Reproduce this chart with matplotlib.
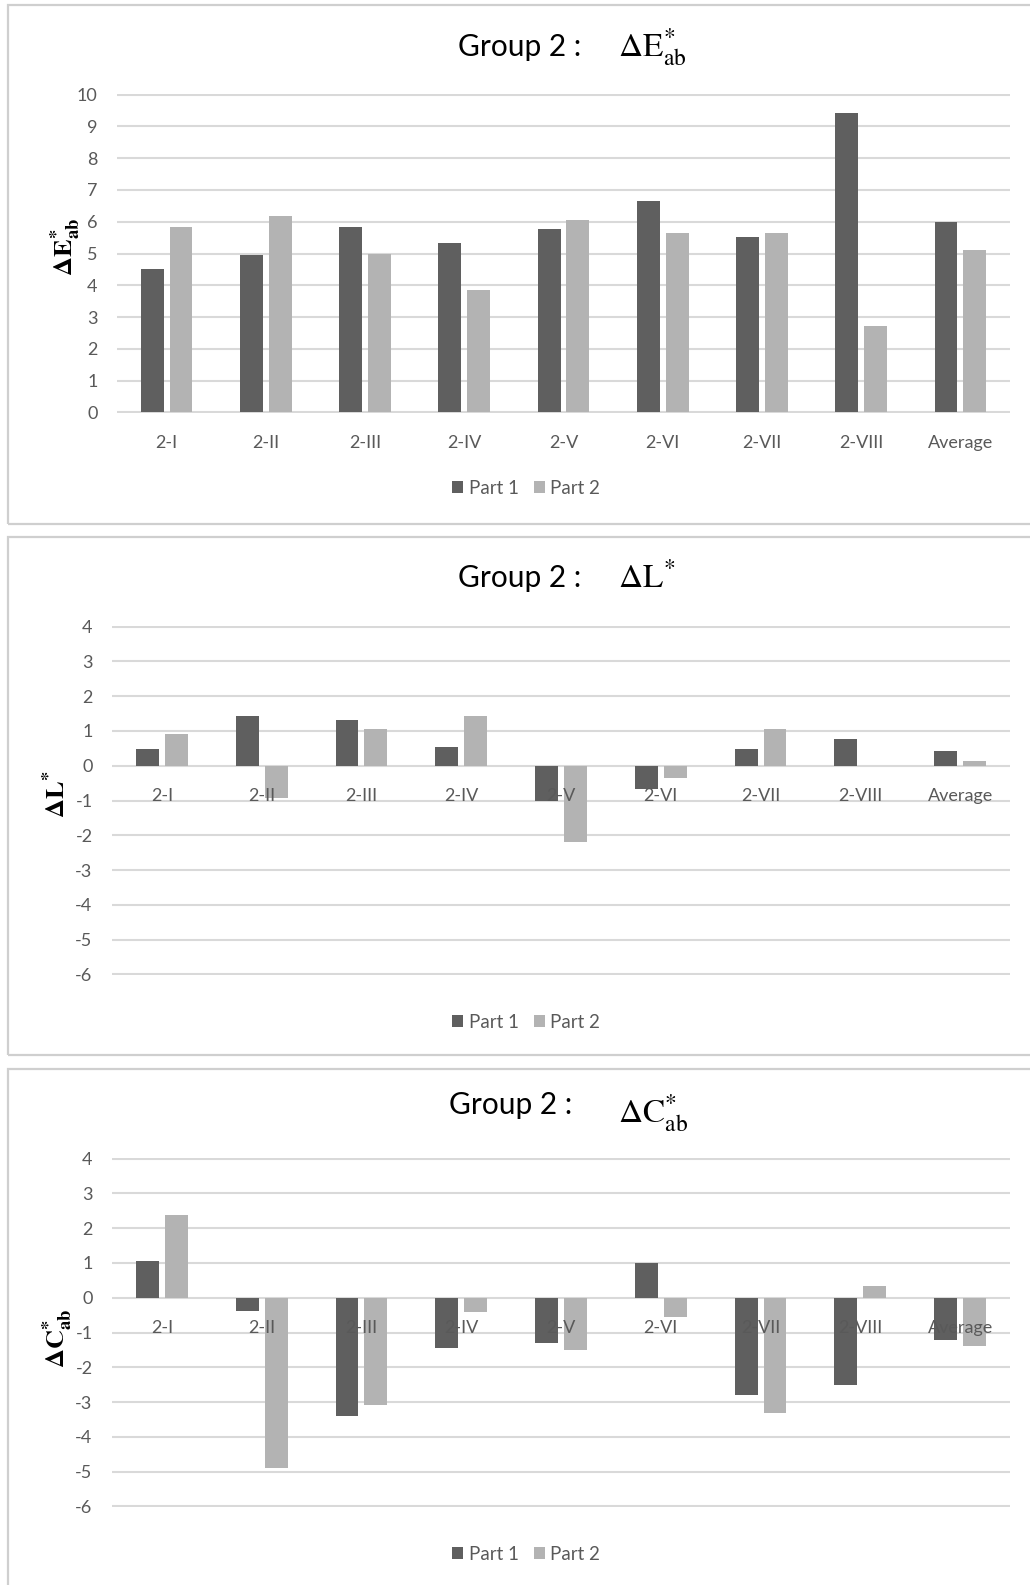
import matplotlib
matplotlib.use("Agg")
import matplotlib.pyplot as plt
import numpy as np
from matplotlib.patches import Rectangle

plt.rcParams['font.family'] = ['Lato', 'DejaVu Sans']
plt.rcParams['mathtext.fontset'] = 'stix'
plt.rcParams['axes.unicode_minus'] = False

# categorias y valores
cats = ['2-I', '2-II', '2-III', '2-IV', '2-V', '2-VI', '2-VII', '2-VIII', 'Average']
series_names = ['Part 1', 'Part 2']

de_p1 = [4.50, 4.95, 5.84, 5.33, 5.77, 6.66, 5.51, 9.42, 5.98]
de_p2 = [5.83, 6.17, 4.98, 3.86, 6.05, 5.63, 5.66, 2.73, 5.12]

dl_p1 = [0.48, 1.42, 1.32, 0.55, -1.00, -0.66, 0.48, 0.76, 0.43]
dl_p2 = [0.92, -0.93, 1.05, 1.42, -2.18, -0.35, 1.05, 0.0, 0.14]

dc_p1 = [1.06, -0.37, -3.41, -1.45, -1.30, 1.00, -2.79, -2.52, -1.22]
dc_p2 = [2.38, -4.90, -3.08, -0.40, -1.49, -0.54, -3.32, 0.33, -1.39]

W, H = 1030, 1585
DARK = '#5f5f5f'
LIGHT = '#b3b3b3'
GRID = '#d9d9d9'
TXT = '#595959'

fig = plt.figure(figsize=(W / 100, H / 100), dpi=100)


def fx(px):
    return px / W


def fy(py):
    return 1 - py / H


def panel(top, bottom):
    # marco gris de cada grafico
    r = Rectangle((fx(8), fy(bottom)), fx(1040) - fx(8), fy(top) - fy(bottom),
                  transform=fig.transFigure, fill=False, edgecolor='#cfcfcf', lw=1.6)
    fig.patches.append(r)


def make_chart(box, p1, p2, ylim, yticks, ylabel, ylab_xy, title_math, title_pos, math_dy, legend_y):
    l, t, r, b = box
    ax = fig.add_axes([fx(l), fy(b), fx(r) - fx(l), fy(t) - fy(b)])
    x = np.arange(len(cats))
    w = 0.23
    ax.bar(x - 0.145, p1, w, color=DARK, label=series_names[0], zorder=2)
    ax.bar(x + 0.145, p2, w, color=LIGHT, label=series_names[1], zorder=2)
    ax.set_xlim(-0.5, len(cats) - 0.5)
    ax.set_ylim(ylim[0] - 0.02, ylim[1] + 0.02)
    ax.set_yticks(yticks)
    ax.set_axisbelow(True)
    ax.xaxis.set_zorder(3)  # etiquetas encima de las barras, como en Excel
    ax.grid(axis='y', color=GRID, lw=1.5)
    for s in ['top', 'right', 'left']:
        ax.spines[s].set_visible(False)
    ax.spines['bottom'].set_position(('data', 0))
    ax.spines['bottom'].set_visible(False)
    ax.set_xticks(x)
    ax.set_xticklabels(cats)
    ax.tick_params(axis='x', length=0, pad=16, labelsize=13, labelcolor=TXT)
    ax.tick_params(axis='y', length=0, pad=14, labelsize=13, labelcolor=TXT)
    ax.set_ylabel(ylabel, fontsize=19, color='black', va='center')
    ax.yaxis.set_label_coords((ylab_xy[0] - l) / (r - l), (b - ylab_xy[1]) / (b - t))
    ax.legend(loc='center', bbox_to_anchor=(fx(526), fy(legend_y)),
              bbox_transform=fig.transFigure, ncol=2, frameon=False,
              fontsize=13.5, labelcolor=TXT, handlelength=0.6, handleheight=0.6,
              handletextpad=0.3, columnspacing=0.8)
    fig.text(fx(title_pos[0]), fy(title_pos[1]), 'Group 2 :', fontsize=21.5,
             ha='left', va='baseline', color='black')
    fig.text(fx(618), fy(title_pos[1] + math_dy), title_math, fontsize=24,
             ha='left', va='baseline', color='black')
    return ax


panel(5, 524)
panel(537, 1055)
panel(1069, 1600)

make_chart((117, 94, 1010, 413), de_p1, de_p2, (0, 10), range(0, 11),
           r'$\mathbf{\Delta E^{*}_{ab}}$', (66, 247), r'$\mathrm{\Delta E^{*}_{ab}}$',
           (458, 56), 0, 488)
make_chart((112, 626, 1010, 975), dl_p1, dl_p2, (-6, 4), range(-6, 5),
           r'$\mathbf{\Delta L^{*}}$', (56, 794), r'$\mathrm{\Delta L^{*}}$',
           (458, 587), 0, 1022)
make_chart((112, 1158, 1010, 1507), dc_p1, dc_p2, (-6, 4), range(-6, 5),
           r'$\mathbf{\Delta C^{*}_{ab}}$', (58, 1338), r'$\mathrm{\Delta C^{*}_{ab}}$',
           (449, 1114), 8, 1554)

fig.savefig('out.png', dpi=100)
